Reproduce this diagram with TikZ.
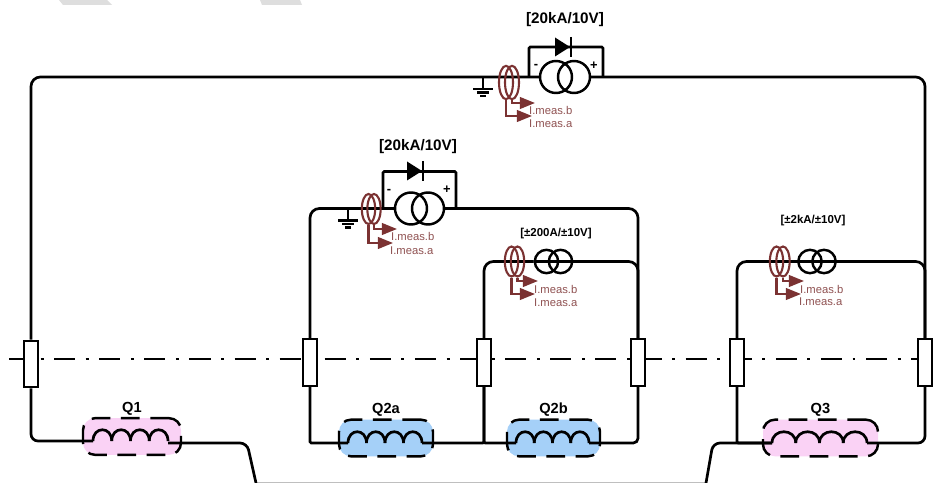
\documentclass[tikz,border=0pt]{standalone}
\usepackage{fontspec}
\setmainfont{Liberation Sans}
\usetikzlibrary{shapes.geometric,arrows.meta,positioning,calc}

\definecolor{rogbrown}{HTML}{7B3232}
\definecolor{magpink}{HTML}{FAD2F5}
\definecolor{quadblue}{HTML}{A5D0F8}

\begin{document}
\begin{tikzpicture}[
    x=0.03cm, y=-0.03cm,
    wire/.style={line width=2.3pt, black},
    axisline/.style={line width=2.5pt, dash pattern=on 18pt off 9pt on 2.5pt off 9pt},
    fuse/.style={rectangle, draw, line width=1.9pt, fill=white, minimum width=0.42cm, minimum height=1.4cm, inner sep=0pt},
    magnet/.style={rectangle, draw, line width=2.1pt, rounded corners=0.36cm, dash pattern=on 16pt off 9pt, minimum height=1.1cm, inner sep=0pt},
    pinkmag/.style={magnet, fill=magpink},
    bluemag/.style={magnet, fill=quadblue},
    bigtrafo/.style={circle, draw, line width=2.1pt, minimum size=0.96cm, inner sep=0pt},
    smalltrafo/.style={circle, draw, line width=2.1pt, minimum size=0.7cm, inner sep=0pt},
    rog/.style={ellipse, draw=rogbrown, line width=1.8pt, minimum width=0.4cm, minimum height=0.9cm, inner sep=0pt},
    measarrow/.style={-{Triangle[length=13pt, width=10pt]}, rogbrown, line width=1.9pt},
    meas/.style={font=\fontsize{9.6pt}{11pt}\selectfont, text=rogbrown!85, inner sep=0pt},
    rating/.style={font=\fontsize{13pt}{15pt}\selectfont\bfseries, inner sep=0pt},
    smallrating/.style={font=\fontsize{9.8pt}{12pt}\selectfont\bfseries, inner sep=0pt},
    polarity/.style={font=\fontsize{11pt}{12pt}\selectfont\bfseries, inner sep=0pt},
    maglabel/.style={font=\fontsize{12.5pt}{14pt}\selectfont\bfseries, inner sep=0pt},
    coil/.pic={
        \draw[wire] (0,0) .. controls (0,-15) and (1,-15) .. (1,0);
    },
    diode/.pic={
        \fill (-8,-9.5) -- (-8,9.5) -- (7,0) -- cycle;
        \draw[line width=2.4pt] (8,-10) -- (8,10);
    },
    earth/.pic={
        \draw[line width=2pt] (0,0) -- (0,12);
        \draw[line width=2pt] (-10,12) -- (10,12);
        \draw[line width=2pt] (-6,15.5) -- (6,15.5);
        \draw[line width=2pt] (-3,19) -- (3,19);
    }
]
\useasboundingbox (0,0) rectangle (941,483);

% Grey scraps at the page edges
\fill[black!13] (59,0) -- (107,0) -- (112,5) -- (63,5) -- cycle;
\fill[black!13] (260,0) -- (300,0) -- (302,5) -- (262,5) -- cycle;
\draw[black!25, line width=0.8pt] (256,482.5) -- (706,482.5);

% Centre line
\coordinate (axisL) at (9,359);
\coordinate (axisR) at (941,359);
\draw[axisline] (axisL) -- (axisR);

% Fuses on the centre line
\node[fuse] (fuseA) at (31,364) {};
\node[fuse] (fuseB) at (310,362.5) {};
\node[fuse] (fuseC) at (484,362.5) {};
\node[fuse] (fuseD) at (638,362.5) {};
\node[fuse] (fuseE) at (737,362.5) {};
\node[fuse] (fuseF) at (925,362.5) {};

% Magnets
\node[pinkmag, minimum width=2.94cm] (Q1) at (132,436.5) {};
\node[bluemag, minimum width=2.82cm] (Q2a) at (386,438) {};
\node[bluemag, minimum width=2.79cm] (Q2b) at (553.5,438) {};
\node[pinkmag, minimum width=3.45cm] (Q3) at (820.5,438) {};
\node[maglabel, above=0.05cm of Q1] (labelQ1) {Q1};
\node[maglabel, above=0.05cm of Q2a] (labelQ2a) {Q2a};
\node[maglabel, above=0.05cm of Q2b] (labelQ2b) {Q2b};
\node[maglabel, above=0.05cm of Q3] (labelQ3) {Q3};

% Coil ends
\coordinate (Q1in) at (93,441);
\coordinate (Q1out) at (168,443);
\coordinate (Q2ain) at (348,443);
\coordinate (Q2aout) at (422,443);
\coordinate (Q2bin) at (516,443);
\coordinate (Q2bout) at (589,443);
\coordinate (Q3in) at (772,443);
\coordinate (Q3out) at (867,443);

% Coils
\foreach \k in {0,1,2,3} {
    \pic[xscale=18.75] at ($(Q1in)+(18.75*\k,0)$) {coil};
    \pic[xscale=18.5] at ($(Q2ain)+(18.5*\k,0)$) {coil};
    \pic[xscale=18.25] at ($(Q2bin)+(18.25*\k,0)$) {coil};
    \pic[xscale=23.75] at ($(Q3in)+(23.75*\k,0)$) {coil};
}

% Transformers
\node[bigtrafo] (trafoTopL) at (556,77) {};
\node[bigtrafo] (trafoTopR) at (574,77) {};
\node[bigtrafo] (trafoMidL) at (411,208.5) {};
\node[bigtrafo] (trafoMidR) at (428,208.5) {};
\node[smalltrafo] (trafoInL) at (546.5,261.5) {};
\node[smalltrafo] (trafoInR) at (560.5,261.5) {};
\node[smalltrafo] (trafoQL) at (810,261.5) {};
\node[smalltrafo] (trafoQR) at (824,261.5) {};

% Main wiring
\draw[wire, rounded corners=8pt] (fuseA.north) |- (trafoTopL.west);
\draw[wire, rounded corners=8pt] (trafoTopR.east) -| (fuseF.north);
\draw[wire, rounded corners=8pt] (fuseB.north) |- (trafoMidL.west);
\draw[wire, rounded corners=8pt] (trafoMidR.east) -| (fuseD.north);
\draw[wire, rounded corners=8pt] (fuseC.north) |- (trafoInL.west);
\draw[wire, rounded corners=8pt] (trafoInL.west) -- (trafoInR.east) -| (fuseD.north);
\draw[wire, rounded corners=8pt] (fuseE.north) |- (trafoQL.west);
\draw[wire, rounded corners=8pt] (trafoQL.west) -- (trafoQR.east) -| (fuseF.north);

% Bottom wiring
\coordinate (bendL) at (256,483);
\coordinate (bendR) at (706,483);
\draw[wire, rounded corners=6pt] (fuseA.south) |- (Q1in);
\draw[wire, rounded corners=6pt] (Q1out) -- (247,443) -- (bendL);
\draw[wire, rounded corners=1pt] (fuseB.south) |- (Q2ain);
\draw[wire, rounded corners=1pt] (fuseC.south) |- (Q2aout);
\draw[wire, rounded corners=1pt] (fuseC.south) |- (Q2bin);
\draw[wire, rounded corners=4pt] (Q2bout) -| (fuseD.south);
\draw[wire, rounded corners=6pt] (Q3in) -- (713,443) -- (bendR);
\draw[wire, rounded corners=1pt] (fuseE.south) |- (Q3in);
\draw[wire, rounded corners=6pt] (Q3out) -| (fuseF.south);

% Diode bypass, top
\coordinate (byTopL) at (529,77);
\coordinate (byTopR) at (603,77);
\draw[wire, rounded corners=1pt] (byTopL) -- ++(0,-30) -| (byTopR);
\pic at (563,47) {diode};
\node[rating] (ratingTop) at (565,20) {[20kA/10V]};
\node[polarity] (minusTop) at (536,66) {-};
\node[polarity] (plusTop) at (594,66) {+};

% Diode bypass, middle
\coordinate (byMidL) at (383,208.5);
\coordinate (byMidR) at (456,208.5);
\draw[wire, rounded corners=1pt] (byMidL) -- ++(0,-37) -| (byMidR);
\pic at (415,171) {diode};
\node[rating] (ratingMid) at (418,147) {[20kA/10V]};
\node[polarity] (minusMid) at (389,191) {-};
\node[polarity] (plusMid) at (447,190) {+};

% Ratings of the inner sources
\node[smallrating] (ratingIn) at (556,234) {[±200A/±10V]};
\node[smallrating] (ratingQ) at (813,221) {[±2kA/±10V]};

% Earths
\pic at (483,77) {earth};
\pic at (348,208.5) {earth};

% Current sensors, top
\node[rog, minimum width=0.42cm, minimum height=1cm] (rogTopA) at (506,82.5) {};
\node[rog, minimum width=0.42cm, minimum height=1cm] (rogTopB) at (512,82.5) {};
\coordinate (tipTopB) at (535,103);
\coordinate (tipTopA) at (532,116);
\draw[measarrow] (rogTopB.south) |- (tipTopB);
\draw[measarrow] (rogTopA.south) |- (tipTopA);
\node[meas, anchor=west] (measTopB) at (529,110) {I.meas.b};
\node[meas, anchor=west] (measTopA) at (529,124) {I.meas.a};

% Current sensors, middle
\node[rog] (rogMidA) at (368.5,209) {};
\node[rog] (rogMidB) at (374,209) {};
\coordinate (tipMidB) at (397,229);
\coordinate (tipMidA) at (393,243);
\draw[measarrow] (rogMidB.south) |- (tipMidB);
\draw[measarrow] (rogMidA.south) |- (tipMidA);
\node[meas, anchor=west] (measMidB) at (391,236) {I.meas.b};
\node[meas, anchor=west] (measMidA) at (390,251) {I.meas.a};

% Current sensors, inner
\node[rog] (rogInA) at (511.5,261.5) {};
\node[rog] (rogInB) at (517.5,261.5) {};
\coordinate (tipInB) at (538,281);
\coordinate (tipInA) at (535,294);
\draw[measarrow] (rogInB.south) |- (tipInB);
\draw[measarrow] (rogInA.south) |- (tipInA);
\node[meas, anchor=west] (measInB) at (534,289) {I.meas.b};
\node[meas, anchor=west] (measInA) at (534,303) {I.meas.a};

% Current sensors, Q3
\node[rog] (rogQA) at (776.5,261.5) {};
\node[rog] (rogQB) at (783,261.5) {};
\coordinate (tipQB) at (804,281);
\coordinate (tipQA) at (801,294);
\draw[measarrow] (rogQB.south) |- (tipQB);
\draw[measarrow] (rogQA.south) |- (tipQA);
\node[meas, anchor=west] (measQB) at (800,289) {I.meas.b};
\node[meas, anchor=west] (measQA) at (799,302) {I.meas.a};

\end{tikzpicture}
\end{document}
